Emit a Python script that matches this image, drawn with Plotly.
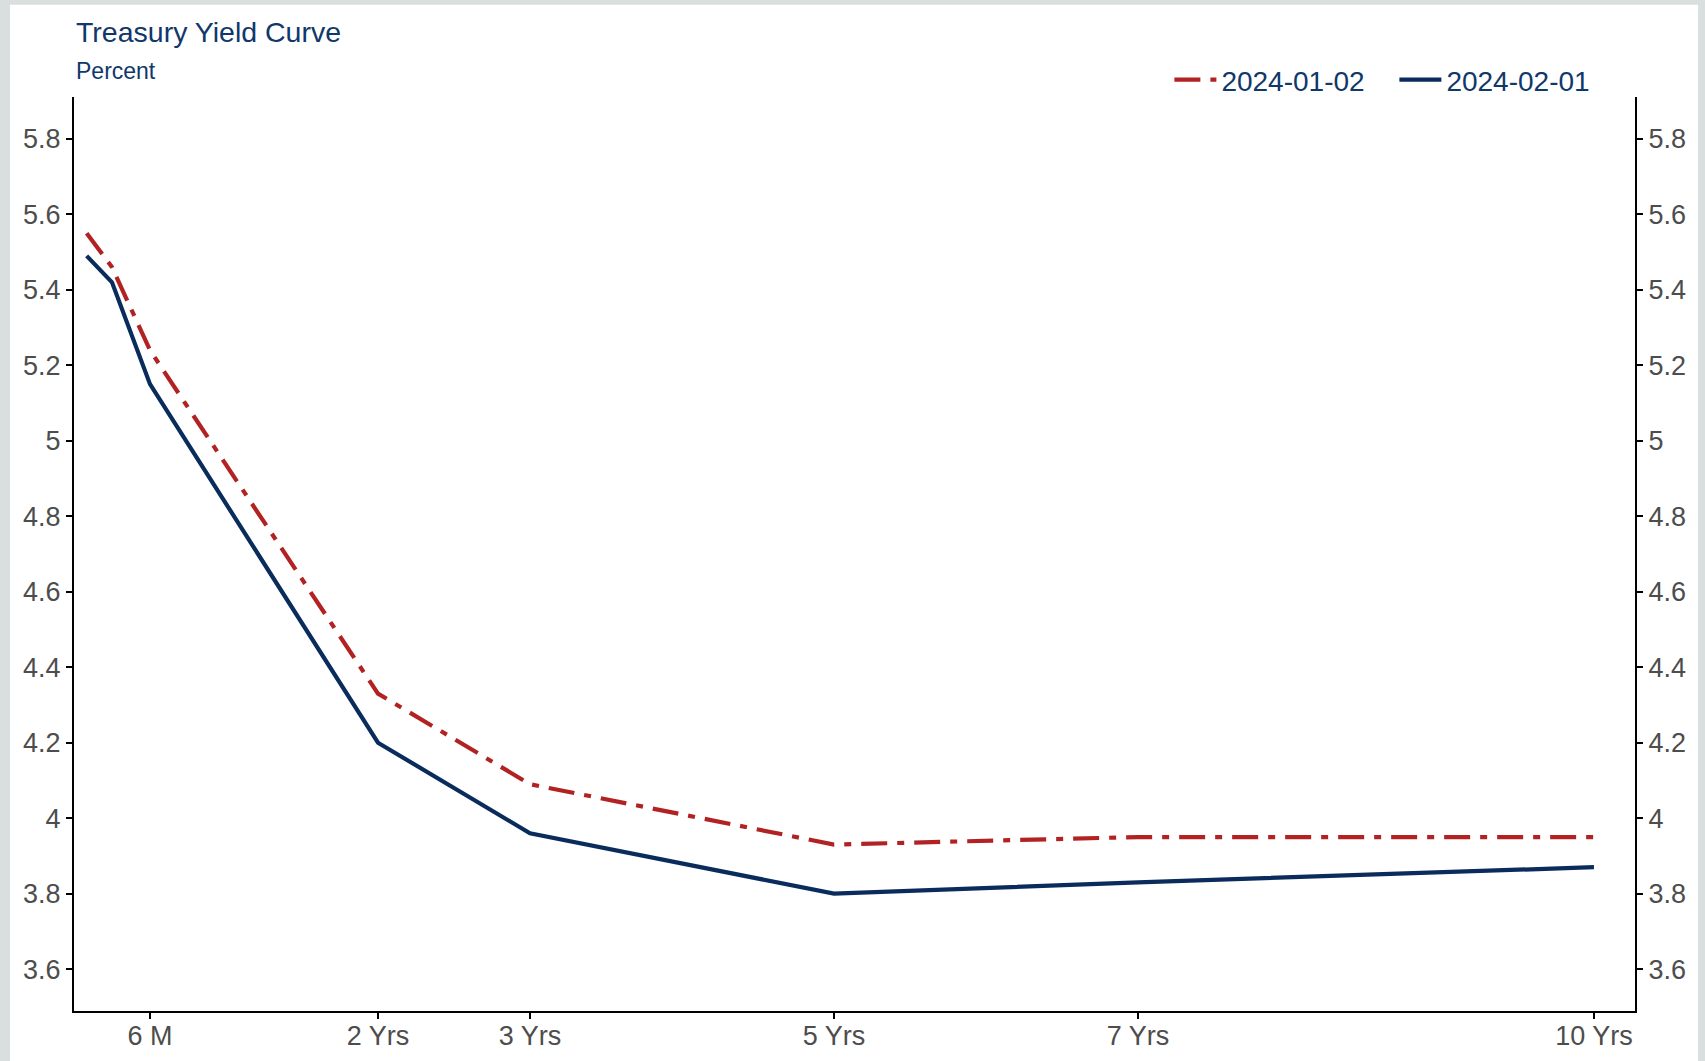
import plotly.graph_objects as go

maturity_years = [1 / 12, 0.25, 0.5, 2, 3, 5, 7, 10]
yield_2024_01_02 = [5.55, 5.46, 5.24, 4.33, 4.09, 3.93, 3.95, 3.95]
yield_2024_02_01 = [5.49, 5.42, 5.15, 4.20, 3.96, 3.80, 3.83, 3.87]

tick_vals = [0.5, 2, 3, 5, 7, 10]
tick_text = ["6 M", "2 Yrs", "3 Yrs", "5 Yrs", "7 Yrs", "10 Yrs"]
y_ticks = [3.6, 3.8, 4.0, 4.2, 4.4, 4.6, 4.8, 5.0, 5.2, 5.4, 5.6, 5.8]
y_text = ["3.6", "3.8", "4", "4.2", "4.4", "4.6", "4.8", "5", "5.2", "5.4", "5.6", "5.8"]

RED = "#b22222"
NAVY = "#0a2c5c"
TEXT = "#10386a"
BG = "#d9dfdf"
FONT = "Liberation Sans, Arial, sans-serif"

fig = go.Figure()
fig.add_trace(go.Scatter(x=maturity_years, y=yield_2024_01_02, mode="lines", name="2024-01-02",
                         line=dict(color=RED, width=4.2, dash="26px,10px,7px,10px")))
fig.add_trace(go.Scatter(x=maturity_years, y=yield_2024_02_01, mode="lines", name="2024-02-01",
                         line=dict(color=NAVY, width=4.2)))
# invisible copy so the right-hand axis gets drawn
fig.add_trace(go.Scatter(x=maturity_years, y=yield_2024_02_01, mode="lines", yaxis="y2",
                         line=dict(color="rgba(0,0,0,0)", width=0), showlegend=False, hoverinfo="skip"))

axis_common = dict(showgrid=False, zeroline=False, showline=True, linecolor="black", linewidth=2,
                   ticks="outside", ticklen=6, tickwidth=1.5, tickcolor="black", automargin=False,
                   tickfont=dict(family=FONT, size=27, color="#4d4d4d"))

fig.update_layout(
    width=1705, height=1061,
    margin=dict(l=74, r=70, t=97, b=50),
    paper_bgcolor=BG, plot_bgcolor="white",
    font=dict(family=FONT),
    showlegend=True,
    legend=dict(orientation="h", x=0.99, xanchor="right", y=1.0186, yanchor="middle",
                itemwidth=42, entrywidth=168, entrywidthmode="pixels",
                font=dict(family=FONT, size=28, color=TEXT), bgcolor="rgba(0,0,0,0)"),
    xaxis=dict(range=[0, 10.27], tickvals=tick_vals, ticktext=tick_text, ticklabelstandoff=-6,
               **axis_common),
    yaxis=dict(range=[3.489, 5.911], tickvals=y_ticks, ticktext=y_text, **axis_common),
    yaxis2=dict(range=[3.489, 5.911], tickvals=y_ticks, ticktext=y_text, overlaying="y", side="right",
                **axis_common),
    shapes=[dict(type="rect", xref="paper", yref="paper", x0=-0.041, x1=1.0404, y0=-0.12, y1=1.101,
                 fillcolor="white", line=dict(width=0), layer="below")],
    annotations=[
        dict(text="Treasury Yield Curve", xref="paper", yref="paper", x=0, y=1.0709, xanchor="left",
             yanchor="middle", showarrow=False, font=dict(family=FONT, size=28.5, color=TEXT)),
        dict(text="Percent", xref="paper", yref="paper", x=0, y=1.0283, xanchor="left",
             yanchor="middle", showarrow=False, font=dict(family=FONT, size=23, color=TEXT)),
    ],
)

fig.write_html("out.html", config={"displayModeBar": False},
               post_script=f"document.body.style.margin='0';document.body.style.background='{BG}';")
